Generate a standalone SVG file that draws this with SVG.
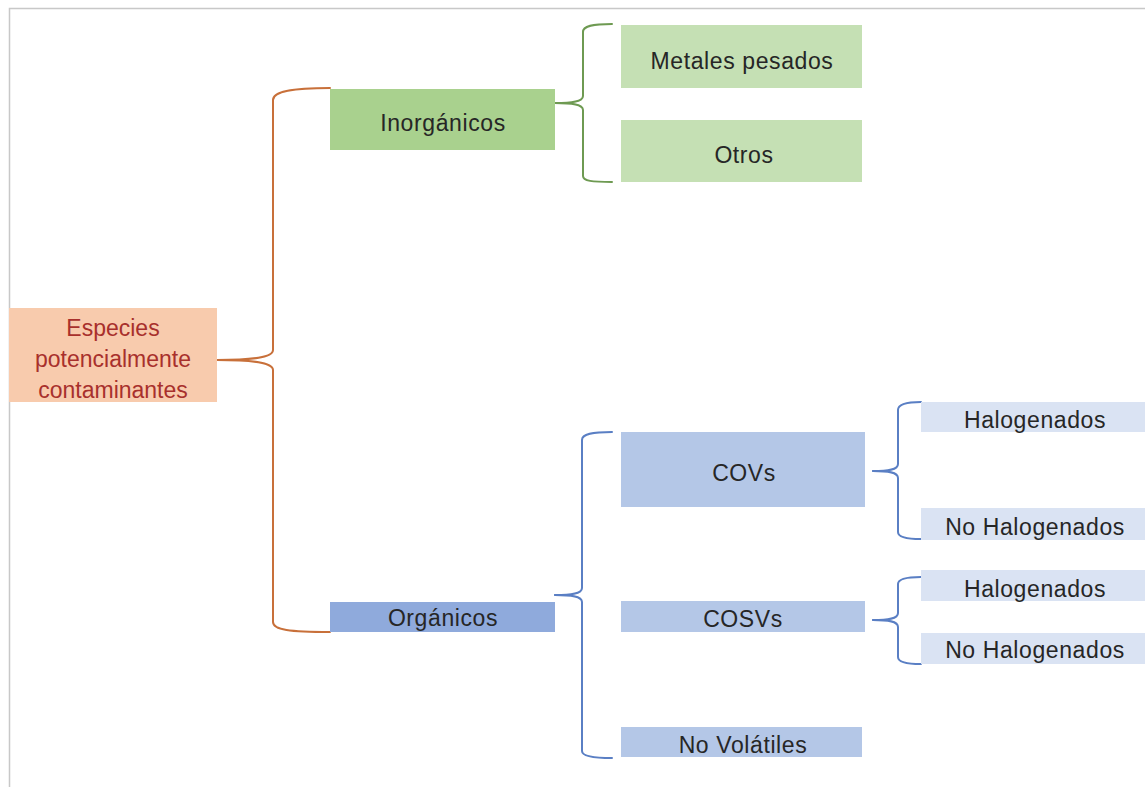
<svg xmlns="http://www.w3.org/2000/svg" width="1145" height="787" viewBox="0 0 1145 787">
<style>
text{font-family:"Liberation Sans",Arial,sans-serif;font-size:23px;fill:#262626;text-anchor:middle;letter-spacing:0.6px}
.red{fill:#a8302c;letter-spacing:0}
.br{fill:none;stroke-width:2;stroke-linecap:round;stroke-linejoin:round}
.o{stroke:#c8703a}.g{stroke:#6e9a52}.b{stroke:#5a7fc4}
</style>
<rect x="0" y="0" width="1145" height="787" fill="#ffffff"/>
<path d="M9.5 787V8.5H1145" fill="none" stroke="#c8c8c8" stroke-width="1.5"/>
<g id="connectors">
<path class="br o" d="M217 360C250 360 273 358 273 350V100C273 92 290 88 330 88"/>
<path class="br o" d="M217 360C250 360 273 362 273 370V622C273 630 290 632 330 632"/>
<path class="br g" d="M555 103C570 103 583 102 583 96V32C583 26 592 24 612 24"/>
<path class="br g" d="M555 103C570 103 583 104 583 110V176C583 181 592 182 612 182"/>
<path class="br b" d="M555 595C570 595 582 594 582 588V440C582 434 592 432 612 432"/>
<path class="br b" d="M555 595C570 595 582 596 582 602V751C582 756 592 758 612 758"/>
<path class="br b" d="M873 471C888 471 898 470 898 464V410C898 404 906 402 921 402"/>
<path class="br b" d="M873 471C888 471 898 472 898 478V532C898 537 906 539 921 539"/>
<path class="br b" d="M873 620C888 620 898 619 898 613V584C898 579 906 577 921 577"/>
<path class="br b" d="M873 620C888 620 898 621 898 627V657C898 662 906 664 921 664"/>
</g>
<g id="especies">
<rect x="9" y="308" width="208" height="94" fill="#f8cbad"/>
<text class="red" x="113" y="336">Especies</text>
<text class="red" x="113" y="367">potencialmente</text>
<text class="red" x="113" y="398">contaminantes</text>
</g>
<g id="inorganicos">
<rect x="330" y="89" width="225" height="61" fill="#a9d18e"/>
<text x="443" y="131">Inorgánicos</text>
</g>
<g id="metales">
<rect x="621" y="25" width="241" height="63" fill="#c5e0b4"/>
<text x="742" y="69">Metales pesados</text>
</g>
<g id="otros">
<rect x="621" y="120" width="241" height="62" fill="#c5e0b4"/>
<text x="744" y="163">Otros</text>
</g>
<g id="organicos">
<rect x="330" y="602" width="225" height="30" fill="#8faadc"/>
<text x="443" y="626">Orgánicos</text>
</g>
<g id="covs">
<rect x="621" y="432" width="244" height="75" fill="#b4c7e7"/>
<text x="744" y="481">COVs</text>
</g>
<g id="cosvs">
<rect x="621" y="601" width="244" height="31" fill="#b4c7e7"/>
<text x="743" y="627">COSVs</text>
</g>
<g id="novolatiles">
<rect x="621" y="727" width="241" height="30" fill="#b4c7e7"/>
<text x="743" y="753">No Volátiles</text>
</g>
<g id="halogenados1">
<rect x="921" y="402" width="224" height="30" fill="#dae3f3"/>
<text x="1035" y="428">Halogenados</text>
</g>
<g id="nohalogenados1">
<rect x="921" y="508" width="224" height="32" fill="#dae3f3"/>
<text x="1035" y="535">No Halogenados</text>
</g>
<g id="halogenados2">
<rect x="921" y="570" width="224" height="31" fill="#dae3f3"/>
<text x="1035" y="597">Halogenados</text>
</g>
<g id="nohalogenados2">
<rect x="921" y="633" width="224" height="31" fill="#dae3f3"/>
<text x="1035" y="658">No Halogenados</text>
</g>
</svg>
